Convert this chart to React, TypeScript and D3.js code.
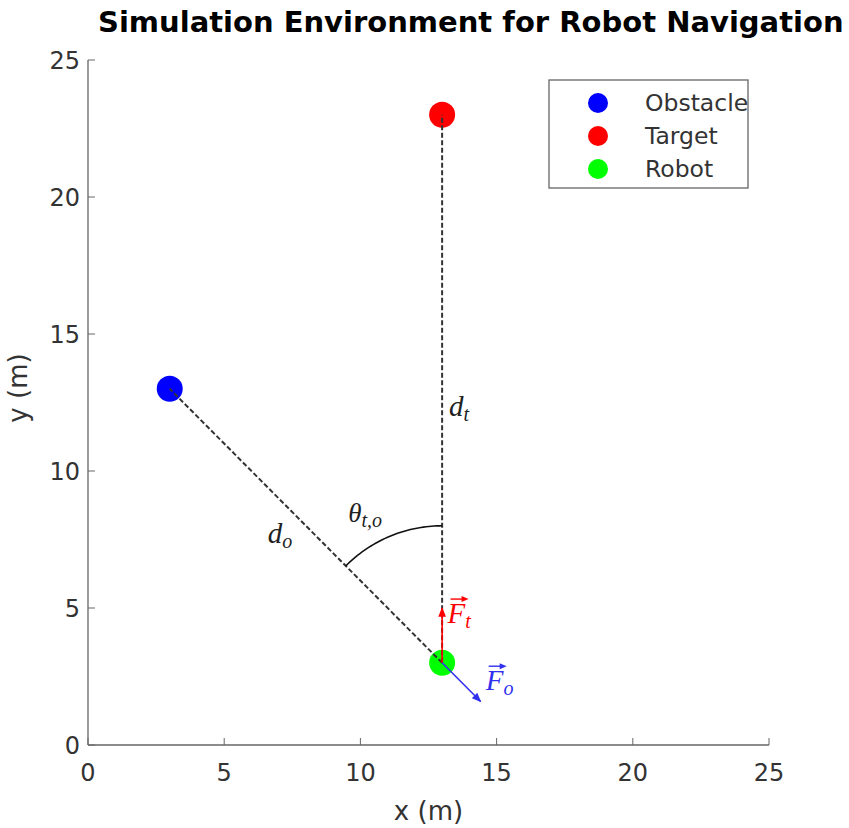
import React from 'react';
import * as d3 from 'd3';

const titleText = 'Simulation Environment for Robot Navigation';
const xTicks = [0, 5, 10, 15, 20, 25];
const yTicks = [0, 5, 10, 15, 20, 25];
const pointNames = ['Obstacle', 'Target', 'Robot'];
const pointX = [3, 13, 13];
const pointY = [13, 23, 3];
const pointColors = ['#0000ff', '#ff0000', '#00ff00'];
const forceLength = 2;
const arcRadius = 5;

const W = 849, H = 828;
const M = { left: 88, right: 769, top: 60, bottom: 745 };

export default function App() {
  const x = d3.scaleLinear().domain([0, 25]).range([M.left, M.right]);
  const y = d3.scaleLinear().domain([0, 25]).range([M.bottom, M.top]);
  const [ox, oy] = [pointX[0], pointY[0]];
  const [tx, ty] = [pointX[1], pointY[1]];
  const [rx, ry] = [pointX[2], pointY[2]];

  const tdx = tx - rx, tdy = ty - ry;
  const tl = Math.hypot(tdx, tdy);
  const ftEnd = [rx + (tdx / tl) * forceLength, ry + (tdy / tl) * forceLength];
  const odx = rx - ox, ody = ry - oy;
  const ol = Math.hypot(odx, ody);
  const foEnd = [rx + (odx / ol) * forceLength, ry + (ody / ol) * forceLength];

  const a1 = Math.atan2(tdy, tdx);
  const a2 = Math.atan2(oy - ry, ox - rx);
  const arcPts = d3.range(0, 41).map(i => {
    const a = a1 + ((a2 - a1) * i) / 40;
    return [rx + arcRadius * Math.cos(a), ry + arcRadius * Math.sin(a)] as [number, number];
  });
  const line = d3.line<[number, number]>().x(d => x(d[0])).y(d => y(d[1]));

  const axisColor = '#666';
  const textColor = '#333';
  const sans = 'DejaVu Sans, sans-serif';
  const serif = 'Liberation Serif, serif';
  const mathSize = 29;
  const subSize = 20;

  const vecArrow = (px: number, py: number, w: number, color: string) => (
    <g>
      <line x1={px} y1={py} x2={px + w - 3} y2={py} stroke={color} strokeWidth={1.4} />
      <path d={`M${px + w},${py} L${px + w - 7},${py - 3} L${px + w - 7},${py + 3} Z`} fill={color} />
    </g>
  );

  return (
    <svg width={W} height={H} style={{ position: 'absolute', left: 0, top: 0, background: '#fff' }}
      xmlns="http://www.w3.org/2000/svg">
      <defs>
        <marker id="arrRed" viewBox="0 0 10 10" refX="9" refY="5" markerWidth="6" markerHeight="6" orient="auto">
          <path d="M0,1 L10,5 L0,9 Z" fill="#ff0000" />
        </marker>
        <marker id="arrBlue" viewBox="0 0 10 10" refX="9" refY="5" markerWidth="6" markerHeight="6" orient="auto">
          <path d="M0,1 L10,5 L0,9 Z" fill="#3030ee" />
        </marker>
      </defs>
      <rect width={W} height={H} fill="#fff" />
      <text x={98} y={32} fontFamily={sans} fontWeight="bold" fontSize={29} fill="#000">{titleText}</text>

      <line x1={M.left} y1={M.bottom} x2={M.right} y2={M.bottom} stroke={axisColor} strokeWidth={1.3} />
      <line x1={M.left} y1={M.bottom} x2={M.left} y2={M.top} stroke={axisColor} strokeWidth={1.3} />
      {xTicks.map(t => (
        <g key={'x' + t}>
          <line x1={x(t)} x2={x(t)} y1={M.bottom} y2={M.bottom - 7} stroke={axisColor} strokeWidth={1} />
          <text x={x(t)} y={M.bottom + 36} textAnchor="middle" fontFamily={sans} fontSize={24} fill={textColor}>{t}</text>
        </g>
      ))}
      {yTicks.map(t => (
        <g key={'y' + t}>
          <line x1={M.left} x2={M.left + 7} y1={y(t)} y2={y(t)} stroke={axisColor} strokeWidth={1} />
          <text x={M.left - 8} y={y(t) + 9} textAnchor="end" fontFamily={sans} fontSize={24} fill={textColor}>{t}</text>
        </g>
      ))}
      <text x={(M.left + M.right) / 2} y={820} textAnchor="middle" fontFamily={sans} fontSize={26} fill={textColor}>x (m)</text>
      <text transform={`translate(27, 388) rotate(-90)`} textAnchor="middle" fontFamily={sans} fontSize={26} fill={textColor}>y (m)</text>

      {pointNames.map((n, i) => (
        <circle key={n} cx={x(pointX[i])} cy={y(pointY[i])} r={13} fill={pointColors[i]} />
      ))}

      <line x1={x(rx)} y1={y(ry)} x2={x(tx)} y2={y(ty)} stroke="#333" strokeWidth={2} strokeDasharray="5,2.5" />
      <line x1={x(rx)} y1={y(ry)} x2={x(ox)} y2={y(oy)} stroke="#333" strokeWidth={2} strokeDasharray="5,2.5" />

      <path d={line(arcPts) || ''} fill="none" stroke="#111" strokeWidth={1.6} />

      <line x1={x(rx)} y1={y(ry)} x2={x(ftEnd[0])} y2={y(ftEnd[1])} stroke="#ff0000" strokeWidth={1.6} markerEnd="url(#arrRed)" />
      <line x1={x(rx)} y1={y(ry)} x2={x(foEnd[0])} y2={y(foEnd[1])} stroke="#3030ee" strokeWidth={1.6} markerEnd="url(#arrBlue)" />

      <text x={x(13.25)} y={y(12.0)} fontFamily={serif} fontStyle="italic" fontSize={mathSize} fill="#222">
        d<tspan fontSize={subSize} dy={5}>t</tspan>
      </text>
      <text x={x(6.6)} y={y(7.37)} fontFamily={serif} fontStyle="italic" fontSize={mathSize} fill="#222">
        d<tspan fontSize={subSize} dy={5}>o</tspan>
      </text>
      <text x={x(9.55)} y={y(8.14)} fontFamily={serif} fontStyle="italic" fontSize={mathSize - 2} fill="#222">
        θ<tspan fontSize={subSize} dy={5}>t,o</tspan>
      </text>
      <g>
        <text x={x(13.2)} y={y(4.45)} fontFamily={serif} fontStyle="italic" fontSize={mathSize} fill="#ff0000">
          F<tspan fontSize={subSize} dy={5}>t</tspan>
        </text>
        {vecArrow(x(13.2) + 3, y(4.45) - 24, 18, '#ff0000')}
      </g>
      <g>
        <text x={x(14.6)} y={y(2.0)} fontFamily={serif} fontStyle="italic" fontSize={mathSize} fill="#3030ee">
          F<tspan fontSize={subSize} dy={5}>o</tspan>
        </text>
        {vecArrow(x(14.6) + 3, y(2.0) - 24, 18, '#3030ee')}
      </g>

      <rect x={549} y={80} width={199} height={108} fill="#fff" stroke="#666" strokeWidth={1.3} />
      {pointNames.map((n, i) => (
        <g key={'lg' + n}>
          <circle cx={598} cy={103 + i * 33} r={10} fill={pointColors[i]} />
          <text x={645} y={103 + i * 33 + 8} fontFamily={sans} fontSize={23.5} fill={textColor}>{n}</text>
        </g>
      ))}
    </svg>
  );
}
